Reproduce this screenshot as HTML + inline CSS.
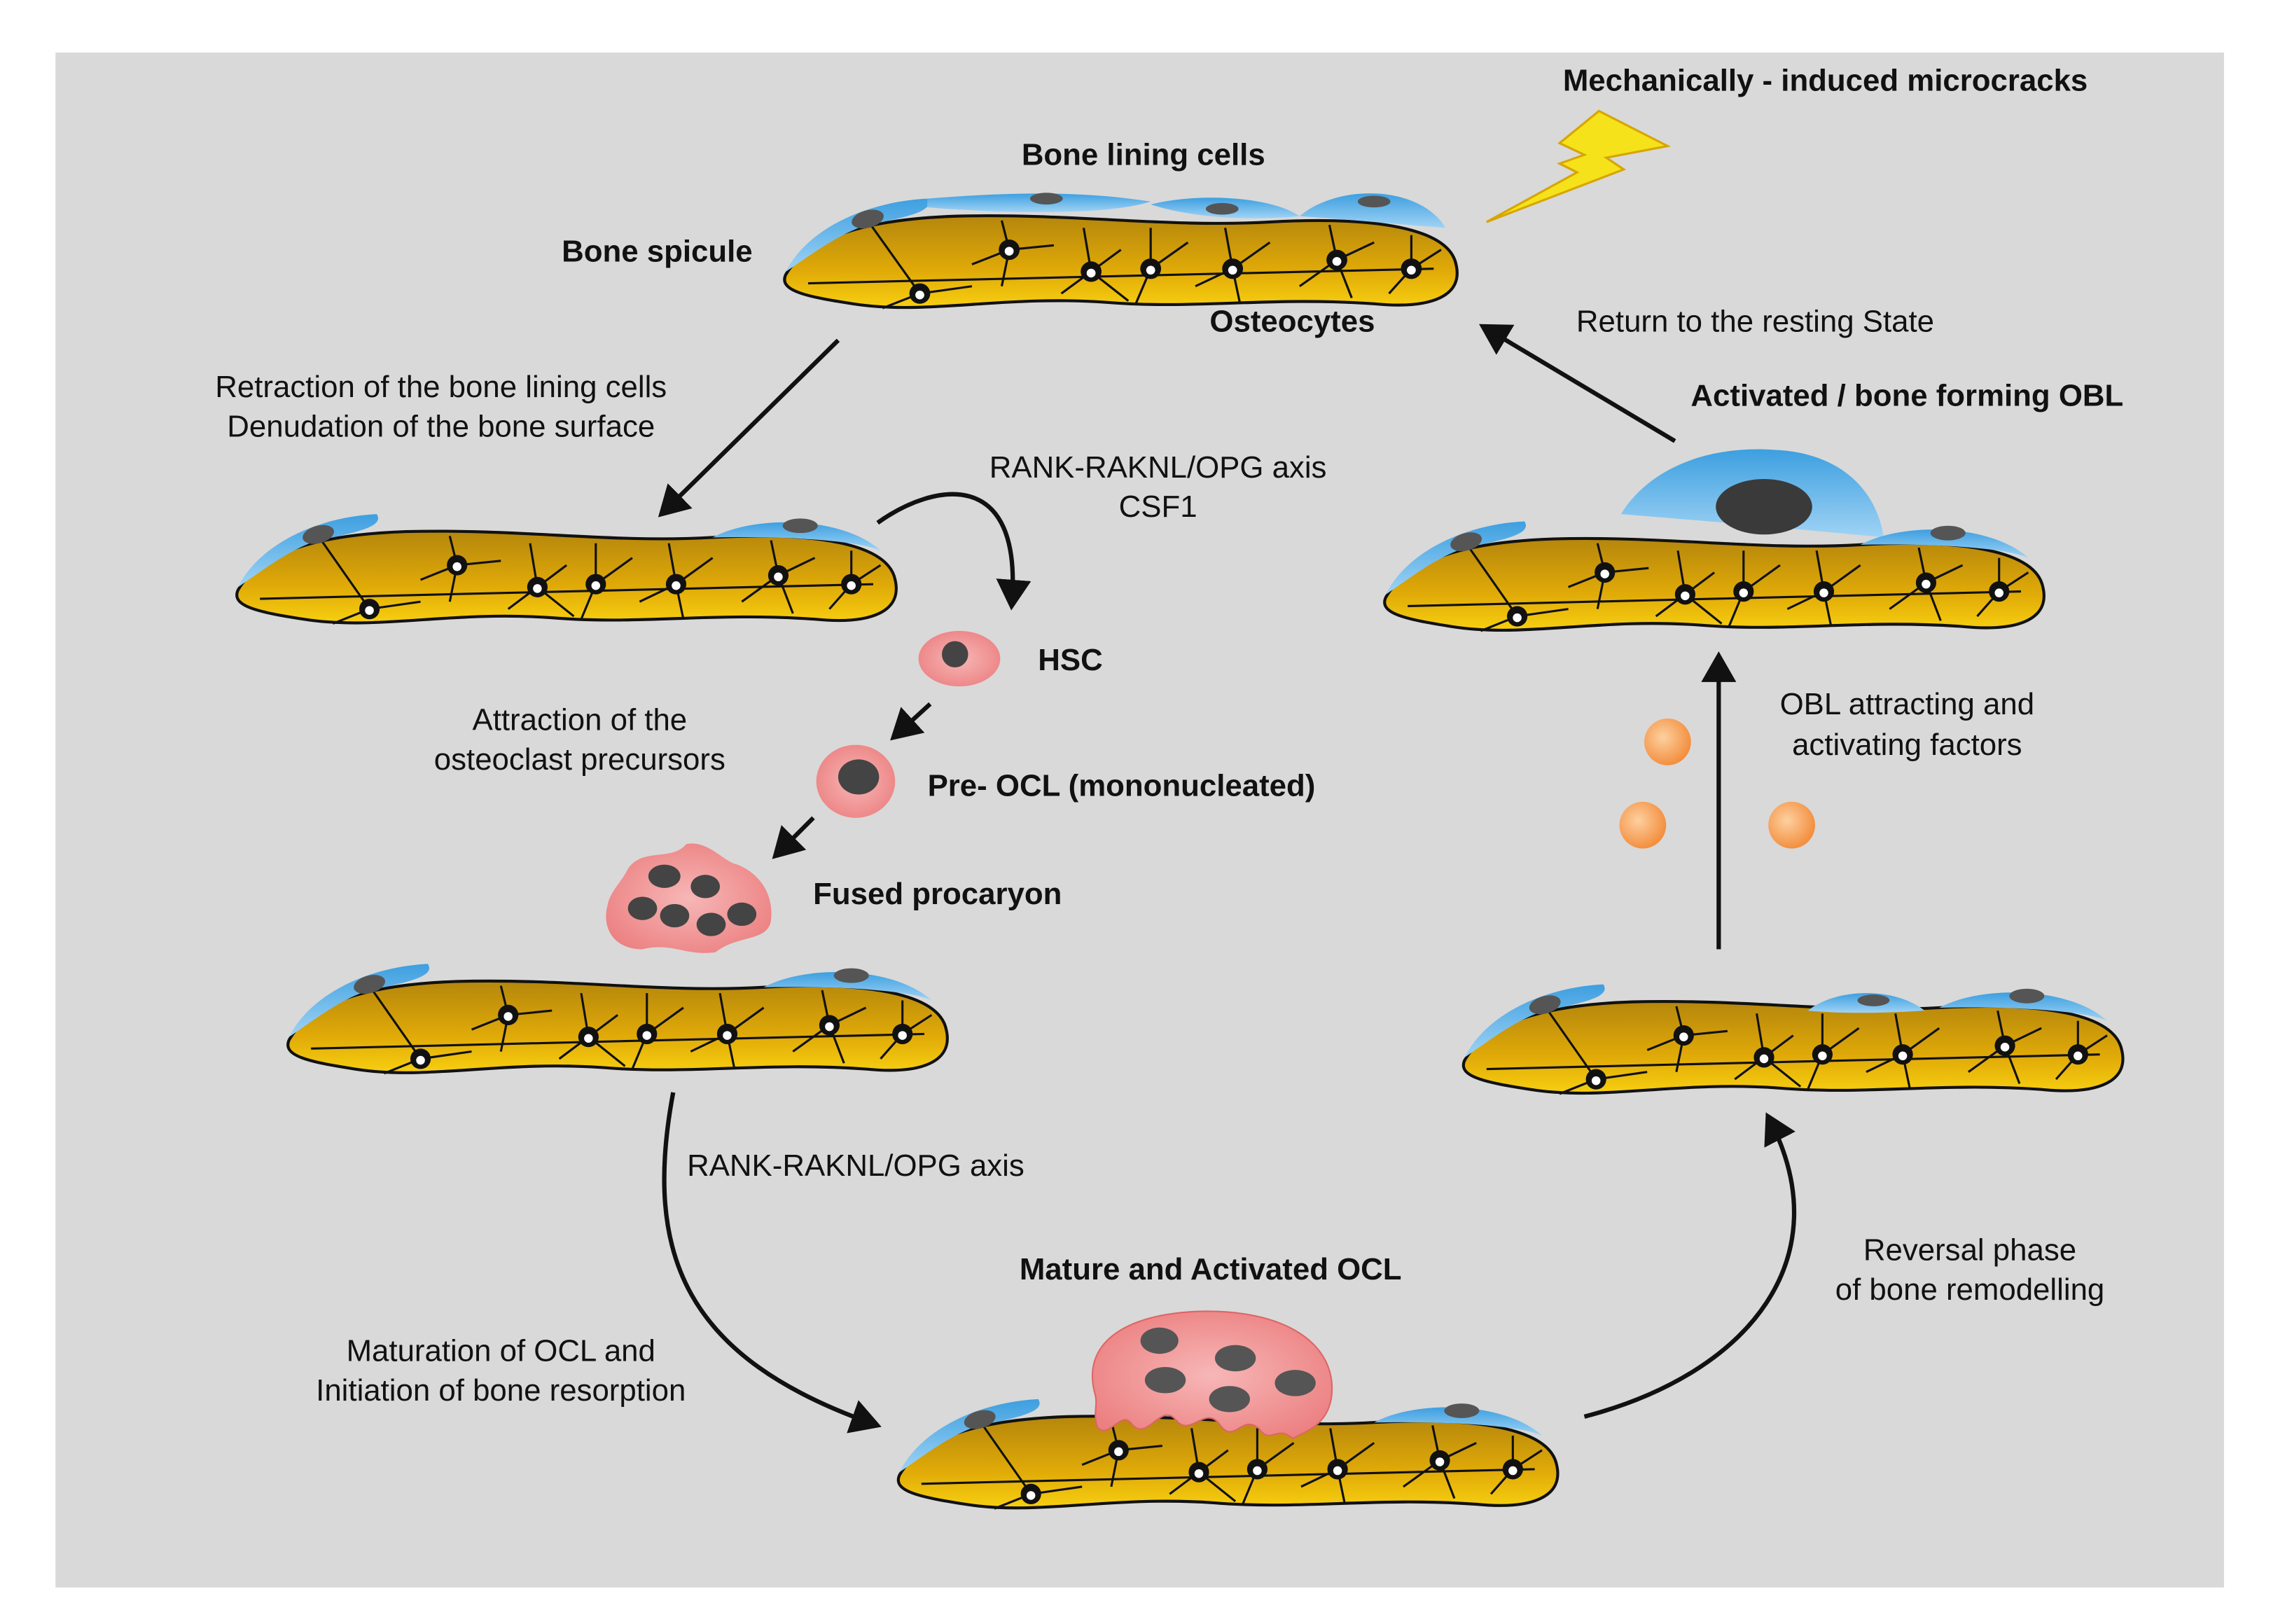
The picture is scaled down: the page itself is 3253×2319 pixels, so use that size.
<!DOCTYPE html>
<html><head><meta charset="utf-8"><style>
html,body{margin:0;padding:0;background:#fff;}
svg{display:block;}
text{font-family:"Liberation Sans",sans-serif;font-size:21px;fill:#111;}
.b{font-weight:bold;}
</style></head><body>
<svg width="3253" height="2319" viewBox="0 0 1560 1112" preserveAspectRatio="none" xmlns="http://www.w3.org/2000/svg">
<defs>
<linearGradient id="bone" x1="0" y1="0" x2="0" y2="1">
<stop offset="0" stop-color="#b5860c"/><stop offset="0.6" stop-color="#e0aa08"/><stop offset="1" stop-color="#f7cf10"/></linearGradient>
<linearGradient id="blue" x1="0" y1="0" x2="0" y2="1">
<stop offset="0" stop-color="#3d9fe0"/><stop offset="1" stop-color="#9fd3f5"/></linearGradient>
<radialGradient id="pink" cx="0.5" cy="0.5" r="0.6">
<stop offset="0" stop-color="#f7b7b7"/><stop offset="1" stop-color="#ec7f80"/></radialGradient>
<radialGradient id="orng" cx="0.4" cy="0.4" r="0.6">
<stop offset="0" stop-color="#fdd0a0"/><stop offset="1" stop-color="#f39040"/></radialGradient>
<marker id="ah" markerWidth="8" markerHeight="8" refX="5" refY="4" orient="auto" markerUnits="strokeWidth">
<path d="M0,0 L7,4 L0,8 Z" fill="#111"/></marker>
<g id="oc">
<circle r="7" fill="#111"/><circle r="3" cx="0" cy="1" fill="#fff"/>
</g>
<g id="sp">
<path d="M5,62 C20,36 60,24 120,22 C200,20 260,30 330,26 C400,22 450,30 455,55 C460,76 440,86 400,82 C330,77 280,86 220,81 C150,76 100,90 50,82 C18,77 0,73 5,62 Z" fill="url(#bone)" stroke="#111" stroke-width="2"/>
<g stroke="#111" stroke-width="1.5" fill="none">
<path d="M20,68 L440,58"/>
<path d="M60,25 L95,75 M95,75 L70,85 M95,75 L130,70"/>
<path d="M150,25 L155,45 L130,55 M155,45 L185,42 M155,45 L150,70"/>
<path d="M205,30 L210,60 L190,75 M210,60 L230,45 M210,60 L235,80"/>
<path d="M250,30 L250,58 L275,40 M250,58 L240,82"/>
<path d="M300,30 L305,58 L280,70 M305,58 L330,40 M305,58 L310,82"/>
<path d="M370,28 L375,52 L350,70 M375,52 L400,40 M375,52 L385,78"/>
<path d="M425,35 L425,58 L410,75 M425,58 L445,45"/>
</g>
<use href="#oc" x="95" y="75"/><use href="#oc" x="155" y="45"/><use href="#oc" x="210" y="60"/><use href="#oc" x="250" y="58"/><use href="#oc" x="305" y="58"/><use href="#oc" x="375" y="52"/><use href="#oc" x="425" y="58"/>
</g>
<g id="lcL"><path d="M5,60 C20,30 60,12 100,10 C105,18 90,22 60,28 C40,34 20,50 5,60 Z" fill="url(#blue)"/><ellipse cx="60" cy="24" rx="11" ry="6" fill="#555" transform="rotate(-15 60 24)"/></g>
<g id="lcR"><path d="M330,26 C360,10 420,12 445,35 C430,28 380,25 330,26 Z" fill="url(#blue)"/><ellipse cx="390" cy="18" rx="12" ry="5" fill="#555"/></g>
</defs>
<rect x="0" y="0" width="1560" height="1112" fill="#fff"/>
<rect x="38" y="36" width="1485" height="1051" fill="#d9d9d9"/>

<!-- spicule 1 -->
<g transform="translate(533,126) scale(1.02,1)">
<use href="#sp"/><use href="#lcL"/>
<path d="M100,10 C150,6 200,4 250,12 C220,22 150,20 100,16 Z" fill="url(#blue)"/><ellipse cx="180" cy="10" rx="11" ry="4" fill="#555"/>
<path d="M250,14 C280,6 330,8 350,22 C320,25 280,24 250,14 Z" fill="url(#blue)"/><ellipse cx="298" cy="17" rx="11" ry="4" fill="#555"/>
<path d="M350,22 C375,0 430,0 448,30 C420,28 380,24 350,22 Z" fill="url(#blue)"/><ellipse cx="400" cy="12" rx="11" ry="4" fill="#555"/>
</g>
<!-- spicule 2 -->
<g transform="translate(158,342)"><use href="#sp"/><use href="#lcL"/><use href="#lcR"/></g>
<!-- spicule 3 with OBL -->
<path d="M1110,352 C1130,320 1170,305 1215,308 C1260,310 1285,335 1290,368 C1230,362 1160,356 1110,352 Z" fill="url(#blue)"/>
<ellipse cx="1208" cy="347" rx="33" ry="19" fill="#3a3a3a"/>
<g transform="translate(944,347)"><use href="#sp"/><use href="#lcL"/><use href="#lcR"/></g>
<!-- spicule 4 -->
<g transform="translate(193,650)"><use href="#sp"/><use href="#lcL"/><use href="#lcR"/></g>
<!-- spicule 5 -->
<g transform="translate(998,664)"><use href="#sp"/><use href="#lcL"/><use href="#lcR"/>
<path d="M240,28 C260,12 300,12 320,28 C290,30 260,30 240,28 Z" fill="url(#blue)"/><ellipse cx="285" cy="21" rx="11" ry="4" fill="#555"/></g>
<!-- spicule 6 -->
<g transform="translate(611,948)"><use href="#sp"/><use href="#lcL"/><use href="#lcR"/></g>
<!-- OCL -->
<path d="M750,955 C740,920 770,900 820,898 C880,896 915,920 912,955 C910,975 895,980 885,985 C875,975 870,990 862,978 C850,968 845,990 835,975 C825,962 815,985 805,972 C795,960 785,988 775,975 C768,965 760,985 752,978 C748,970 752,962 750,955 Z" fill="url(#pink)" stroke="#d66" stroke-width="1"/>
<ellipse cx="794" cy="918" rx="13" ry="9" fill="#555"/><ellipse cx="846" cy="930" rx="14" ry="9" fill="#555"/><ellipse cx="798" cy="945" rx="14" ry="9" fill="#555"/><ellipse cx="887" cy="947" rx="14" ry="9" fill="#555"/><ellipse cx="842" cy="958" rx="14" ry="9" fill="#555"/>

<!-- lightning -->
<polygon points="1095,76 1142,100 1100,108 1112,116 1018,152 1080,118 1068,112 1085,106 1068,98" fill="#f5e21a" stroke="#d7a500" stroke-width="1.5"/>

<!-- HSC, pre-OCL, fused -->
<ellipse cx="657" cy="451" rx="28" ry="19" fill="url(#pink)"/><circle cx="654" cy="448" r="9" fill="#444"/>
<ellipse cx="586" cy="535" rx="27" ry="25" fill="url(#pink)"/><ellipse cx="588" cy="532" rx="14" ry="12" fill="#444"/>
<path d="M430,595 C440,580 460,590 470,578 C485,575 495,590 505,592 C520,598 530,612 528,630 C526,645 505,640 490,652 C470,655 460,645 440,650 C420,650 412,635 416,620 C418,610 425,605 430,595 Z" fill="url(#pink)"/>
<ellipse cx="455" cy="600" rx="11" ry="8" fill="#444"/><ellipse cx="483" cy="607" rx="10" ry="8" fill="#444"/><ellipse cx="440" cy="622" rx="10" ry="8" fill="#444"/><ellipse cx="462" cy="627" rx="10" ry="8" fill="#444"/><ellipse cx="508" cy="626" rx="10" ry="8" fill="#444"/><ellipse cx="487" cy="633" rx="10" ry="8" fill="#444"/>

<!-- orange factors -->
<circle cx="1142" cy="508" r="16" fill="url(#orng)"/><circle cx="1125" cy="565" r="16" fill="url(#orng)"/><circle cx="1227" cy="565" r="16" fill="url(#orng)"/>

<!-- arrows -->
<g stroke="#111" stroke-width="3" fill="none" marker-end="url(#ah)">
<path d="M574,233 L455,350"/>
<path d="M601,358 C640,330 700,320 693,412"/>
<path d="M637,482 L614,503"/>
<path d="M557,560 L533,584"/>
<path d="M461,748 C440,860 470,930 598,975"/>
<path d="M1085,970 C1200,940 1260,860 1212,767"/>
<path d="M1177,650 L1177,452"/>
<path d="M1147,302 L1018,225"/>
</g>

<!-- text -->
<text class="b" x="1250" y="62" text-anchor="middle">Mechanically - induced microcracks</text>
<text class="b" x="783" y="113" text-anchor="middle">Bone lining cells</text>
<text class="b" x="450" y="179" text-anchor="middle">Bone spicule</text>
<text class="b" x="885" y="227" text-anchor="middle">Osteocytes</text>
<text x="1202" y="227" text-anchor="middle">Return to the resting State</text>
<text x="302" y="272" text-anchor="middle">Retraction of the bone lining cells</text>
<text x="302" y="299" text-anchor="middle">Denudation of the bone surface</text>
<text class="b" x="1306" y="278" text-anchor="middle">Activated / bone forming OBL</text>
<text x="793" y="327" text-anchor="middle">RANK-RAKNL/OPG axis</text>
<text x="793" y="354" text-anchor="middle">CSF1</text>
<text class="b" x="733" y="459" text-anchor="middle">HSC</text>
<text x="397" y="500" text-anchor="middle">Attraction of the</text>
<text x="397" y="527" text-anchor="middle">osteoclast precursors</text>
<text x="1306" y="489" text-anchor="middle">OBL attracting and</text>
<text x="1306" y="517" text-anchor="middle">activating factors</text>
<text class="b" x="768" y="545" text-anchor="middle">Pre- OCL (mononucleated)</text>
<text class="b" x="642" y="619" text-anchor="middle">Fused procaryon</text>
<text x="586" y="805" text-anchor="middle">RANK-RAKNL/OPG axis</text>
<text class="b" x="829" y="876" text-anchor="middle">Mature and Activated OCL</text>
<text x="1349" y="863" text-anchor="middle">Reversal phase</text>
<text x="1349" y="890" text-anchor="middle">of bone remodelling</text>
<text x="343" y="932" text-anchor="middle">Maturation of OCL and</text>
<text x="343" y="959" text-anchor="middle">Initiation of bone resorption</text>
</svg>
</body></html>
